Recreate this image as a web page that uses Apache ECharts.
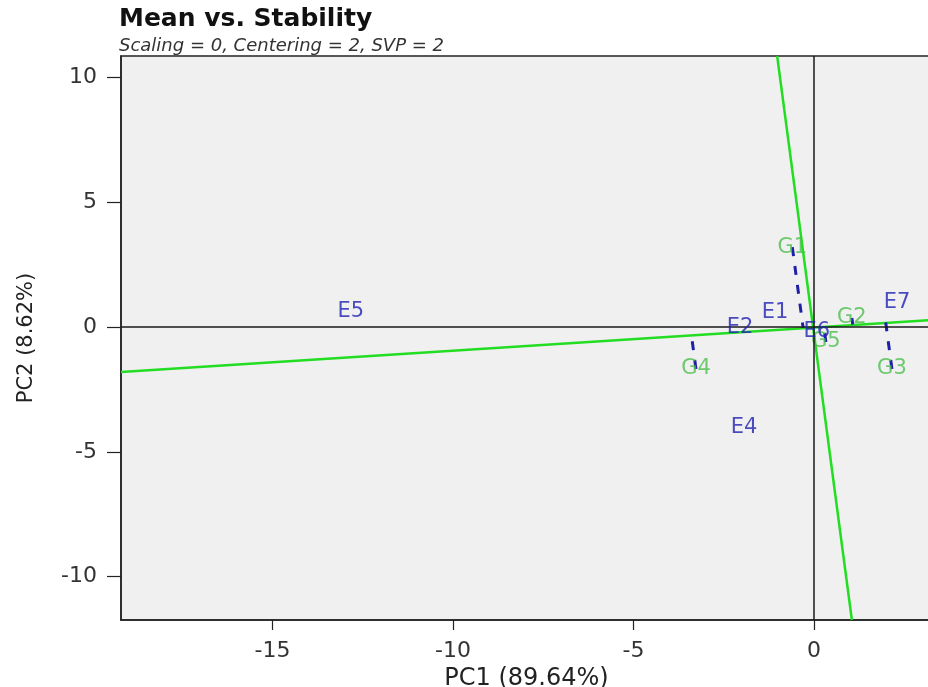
<!DOCTYPE html>
<html>
<head>
<meta charset="utf-8">
<script src="https://cdn.jsdelivr.net/npm/echarts@6/dist/echarts.min.js"></script>
<style>
  html, body { margin: 0; padding: 0; background: #fff; }
  #chart { width: 928px; height: 687px; }
</style>
</head>
<body>
<div id="chart"></div>
<script>
// tick labels
const xTicks = [-15, -10, -5, 0]
const yTicks = [-10, -5, 0, 5, 10]

// environments (blue labels)
const envNames = ['E1', 'E2', 'E4', 'E5', 'E6', 'E7']
const envX = [-1.08, -2.05, -1.94, -12.83, 0.08, 2.3]
const envY = [0.56, -0.04, -4.01, 0.6, -0.2, 1.0]

// genotypes (green labels)
const genNames = ['G1', 'G2', 'G3', 'G4', 'G5']
const genX = [-0.6, 1.05, 2.16, -3.27, 0.33]
const genY = [3.2, 0.36, -1.68, -1.68, -0.6]

// average environment axis and its perpendicular
const aeaLine = [[-19.2, -1.8], [3.27, 0.28]]
const ataLine = [[-1.02, 10.86], [1.05, -11.74]]

const xMin = -19.2, xMax = 3.27
const yMin = -11.74, yMax = 10.86

// foot of the perpendicular from each genotype onto the AEA
const slope = (aeaLine[1][1] - aeaLine[0][1]) / (aeaLine[1][0] - aeaLine[0][0])
const norm = Math.sqrt(1 + slope * slope)
const ux = 1 / norm, uy = slope / norm
const projSeries = genNames.map((g, i) => {
  const d = genX[i] * ux + genY[i] * uy
  return {
    type: 'line',
    data: [[genX[i], genY[i]], [d * ux, d * uy]],
    symbol: 'none',
    silent: true,
    z: 3,
    lineStyle: { color: '#1f1fa8', width: 3, type: [9, 10] }
  }
})

const font = 'DejaVu Sans, Verdana, sans-serif'

const option = {
  animation: false,
  backgroundColor: '#ffffff',
  title: {
    text: 'Mean vs. Stability',
    subtext: 'Scaling = 0, Centering = 2, SVP = 2',
    left: 119,
    top: 7,
    itemGap: 5,
    padding: 0,
    textStyle: { fontFamily: font, fontSize: 25, fontWeight: 'bold', color: '#111' },
    subtextStyle: { fontFamily: font, fontSize: 18, fontStyle: 'italic', color: '#333' }
  },
  grid: {
    left: 121,
    right: -4,
    top: 56,
    bottom: 67,
    outerBoundsMode: 'none',
    containLabel: false,
    show: true,
    backgroundColor: '#f0f0f0',
    borderColor: '#222',
    borderWidth: 1.5
  },
  xAxis: {
    type: 'value',
    min: xMin,
    max: xMax,
    name: 'PC1 (89.64%)',
    nameLocation: 'middle',
    nameGap: 40,
    nameTextStyle: { fontFamily: font, fontSize: 24, color: '#222' },
    splitLine: { show: false },
    axisLine: { show: true, onZero: false, lineStyle: { color: '#222', width: 1.5 } },
    axisTick: { show: true, customValues: xTicks, length: 10, lineStyle: { color: '#222', width: 1.2 } },
    axisLabel: {
      customValues: xTicks,
      margin: 20,
      fontFamily: font,
      fontSize: 22,
      color: '#333'
    }
  },
  yAxis: {
    type: 'value',
    min: yMin,
    max: yMax,
    name: 'PC2 (8.62%)',
    nameLocation: 'middle',
    nameGap: 84,
    nameTextStyle: { fontFamily: font, fontSize: 21, color: '#222' },
    splitLine: { show: false },
    axisLine: { show: true, onZero: false, lineStyle: { color: '#222', width: 1.5 } },
    axisTick: { show: true, customValues: yTicks, length: 14, lineStyle: { color: '#222', width: 1.2 } },
    axisLabel: {
      customValues: yTicks,
      margin: 24,
      fontFamily: font,
      fontSize: 22,
      color: '#333'
    }
  },
  series: [
    {
      type: 'line',
      data: aeaLine,
      symbol: 'none',
      silent: true,
      z: 2,
      lineStyle: { color: '#22dd22', width: 2.5 },
      markLine: {
        silent: true,
        symbol: 'none',
        label: { show: false },
        lineStyle: { color: '#1a1a1a', width: 1.5, type: 'solid' },
        data: [{ xAxis: 0 }, { yAxis: 0 }]
      }
    },
    {
      type: 'line',
      data: ataLine,
      symbol: 'none',
      silent: true,
      z: 2,
      lineStyle: { color: '#22dd22', width: 2.5 }
    },
    ...projSeries,
    {
      type: 'scatter',
      name: 'Genotypes',
      symbolSize: 0,
      z: 4,
      data: genNames.map((n, i) => ({ name: n, value: [genX[i], genY[i]] })),
      label: {
        show: true,
        position: 'inside',
        formatter: '{b}',
        fontFamily: font,
        fontSize: 21,
        color: '#4cbf4c'
      }
    },
    {
      type: 'scatter',
      name: 'Environments',
      symbolSize: 0,
      z: 5,
      data: envNames.map((n, i) => ({ name: n, value: [envX[i], envY[i]] })),
      label: {
        show: true,
        position: 'inside',
        formatter: '{b}',
        fontFamily: font,
        fontSize: 21,
        color: '#2222b4'
      }
    }
  ]
}

const myChart = echarts.init(document.getElementById('chart'))
myChart.setOption(option)
window.onresize = myChart.resize
</script>
</body>
</html>
